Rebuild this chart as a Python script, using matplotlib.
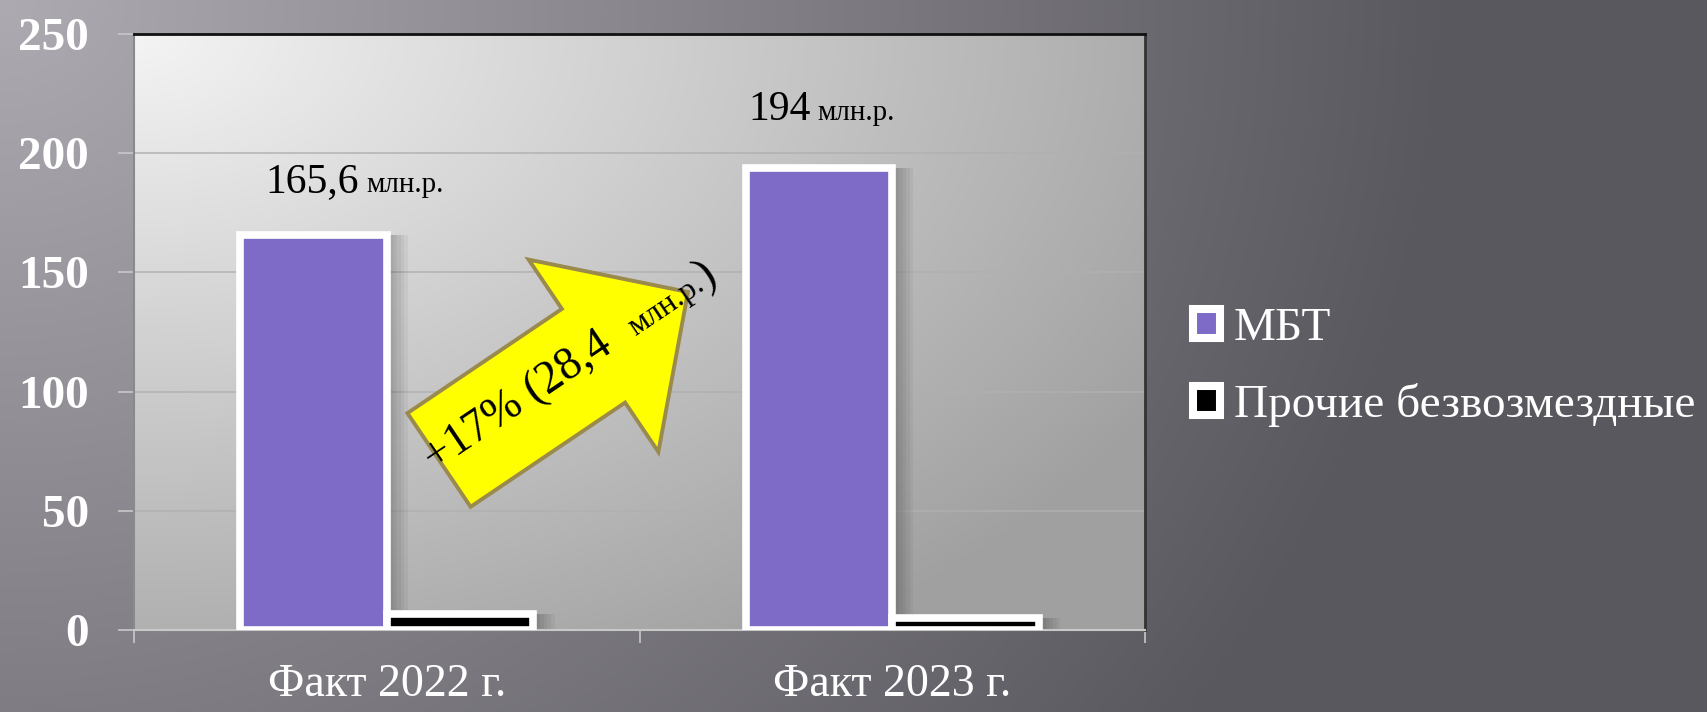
import matplotlib
matplotlib.use('Agg')
import matplotlib.pyplot as plt
from matplotlib.patches import FancyArrow, Rectangle
from matplotlib.transforms import IdentityTransform
import numpy as np

plt.rcParams['font.family'] = ['Liberation Serif', 'DejaVu Serif']

# ---- data ----
categories = ['Факт 2022 г.', 'Факт 2023 г.']
series_names = ['МБТ', 'Прочие безвозмездные']
mbt = [165.6, 194.0]
other = [6.7, 5.0]
mbt_labels = ['165,6', '194']
unit = 'млн.р.'
yticks = [0, 50, 100, 150, 200, 250]
growth_text = '+17% (28,4'

purple = '#7d6bc7'
W, H = 1707, 712
fig = plt.figure(figsize=(W / 100, H / 100), dpi=100)

# ---- background gradient (figure) ----
bg = fig.add_axes([0, 0, 1, 1], zorder=-10)
yy, xx = np.mgrid[0:H, 0:W]
f = np.clip(1 - np.sqrt((xx / 1450) ** 2 + (yy / 1270) ** 2), 0, 1)
c0 = np.array([90, 88, 95]) / 255
c1 = np.array([174, 170, 178]) / 255
img = c0 + (c1 - c0) * f[..., None]
bg.imshow(img, aspect='auto', extent=[0, 1, 0, 1])
bg.set_axis_off()

# ---- plot area ----
ax_l, ax_r, ax_t, ax_b = 134, 1145, 34, 630
ax = fig.add_axes([ax_l / W, (H - ax_b) / H, (ax_r - ax_l) / W, (ax_b - ax_t) / H])
pw, ph = ax_r - ax_l, ax_b - ax_t
py, px = np.mgrid[0:ph, 0:pw]
g = np.clip(1 - np.sqrt((px / 1200) ** 2 + (py / 740) ** 2), 0, 1)
pimg = (160 + 84 * g) / 255
pimg = np.dstack([pimg, pimg, pimg])
ax.imshow(pimg, aspect='auto', extent=[0, 1, 0, 1], transform=ax.transAxes, zorder=0)

x = np.arange(len(categories))
bw = 0.29
# soft shadows on the right of bars
for k in range(1, 7):
    ax.bar(x - bw / 2 + 0.007 * k, mbt, bw, color='black', alpha=0.045, zorder=1)
    ax.bar(x + bw / 2 + 0.007 * k, other, bw, color='black', alpha=0.045, zorder=1)
ax.bar(x - bw / 2, mbt, bw, color=purple, edgecolor='white', linewidth=5.5, zorder=3)
ax.bar(x + bw / 2, other, bw, color='black', edgecolor='white', linewidth=5.5, zorder=3)

ax.set_xlim(-0.5, 1.5)
ax.set_ylim(0, 250)
ax.set_yticks(yticks)
ax.set_yticklabels([str(v) for v in yticks], fontsize=34, fontweight='bold', color='white')
ax.tick_params(axis='y', length=11.5, width=1.2, color='#c8c8c8', pad=21)
ax.set_xticks(x)
ax.set_xticklabels(categories, fontsize=33, color='white')
ax.set_xticks([-0.5, 0.5, 1.5], minor=True)
ax.tick_params(axis='x', which='major', length=0, pad=24)
ax.tick_params(axis='x', which='minor', length=9.5, width=1.2, color='#c8c8c8')
ax.set_axisbelow(True)
ax.yaxis.grid(True, color='#b0b0b0', alpha=0.8, linewidth=1.3)
ax.spines['left'].set_color('#8a8a8a')
ax.spines['left'].set_linewidth(1.5)
ax.spines['bottom'].set_color('#c8c8c8')
ax.spines['bottom'].set_linewidth(1.5)
ax.spines['top'].set_color('#111111')
ax.spines['top'].set_linewidth(2)
ax.spines['right'].set_color('#333333')
ax.spines['right'].set_linewidth(2)

# ---- legend ----
handles = [Rectangle((0, 0), 1, 1, fc=purple, ec='white', lw=5.8, joinstyle='round'),
           Rectangle((0, 0), 1, 1, fc='black', ec='white', lw=5.8, joinstyle='round')]
fig.legend(handles, series_names, loc='center left', bbox_to_anchor=(1193 / W, 1 - 367 / H),
           frameon=False, fontsize=34, labelcolor='white', handlelength=0.57, handleheight=0.57,
           handletextpad=0.3, labelspacing=0.7, borderpad=0, borderaxespad=0)

renderer = fig.canvas.get_renderer()


def draw_pieces(x0, y0, pieces, angle=0.0):
    ca, sa = np.cos(np.radians(angle)), np.sin(np.radians(angle))
    for s, size, gap in pieces:
        t = fig.text(x0, y0, s, fontsize=size, color='black', transform=IdentityTransform(),
                     ha='left', va='baseline', rotation_mode='anchor', zorder=6)
        w = t.get_window_extent(renderer).width
        t.set_rotation(angle)
        step = w + gap
        x0 += step * ca
        y0 += step * sa


# value labels above the purple bars (offsets in pixels from bar top-centre)
label_offsets = [(-48, 43), (-71, 48)]
for xi, v, lab, (ox, oy) in zip(x, mbt, mbt_labels, label_offsets):
    bx, by = ax.transData.transform((xi - bw / 2, v))
    draw_pieces(bx + ox, by + oy, [(lab, 30, 7), (unit, 21, 0)])

# growth arrow
tail = np.array([439, H - 460])
tip = np.array([688, H - 292])
arrow = FancyArrow(tail[0], tail[1], tip[0] - tail[0], tip[1] - tail[1], width=113,
                   head_width=232, head_length=114, length_includes_head=True,
                   fc='#ffff00', ec='#9a8a4c', lw=2.8, transform=IdentityTransform(), zorder=5)
fig.add_artist(arrow)
draw_pieces(434, H - 472, [(growth_text, 33, 26), (unit, 23, 0), (')', 33, 0)], angle=34)

fig.savefig('out.png', dpi=100)
